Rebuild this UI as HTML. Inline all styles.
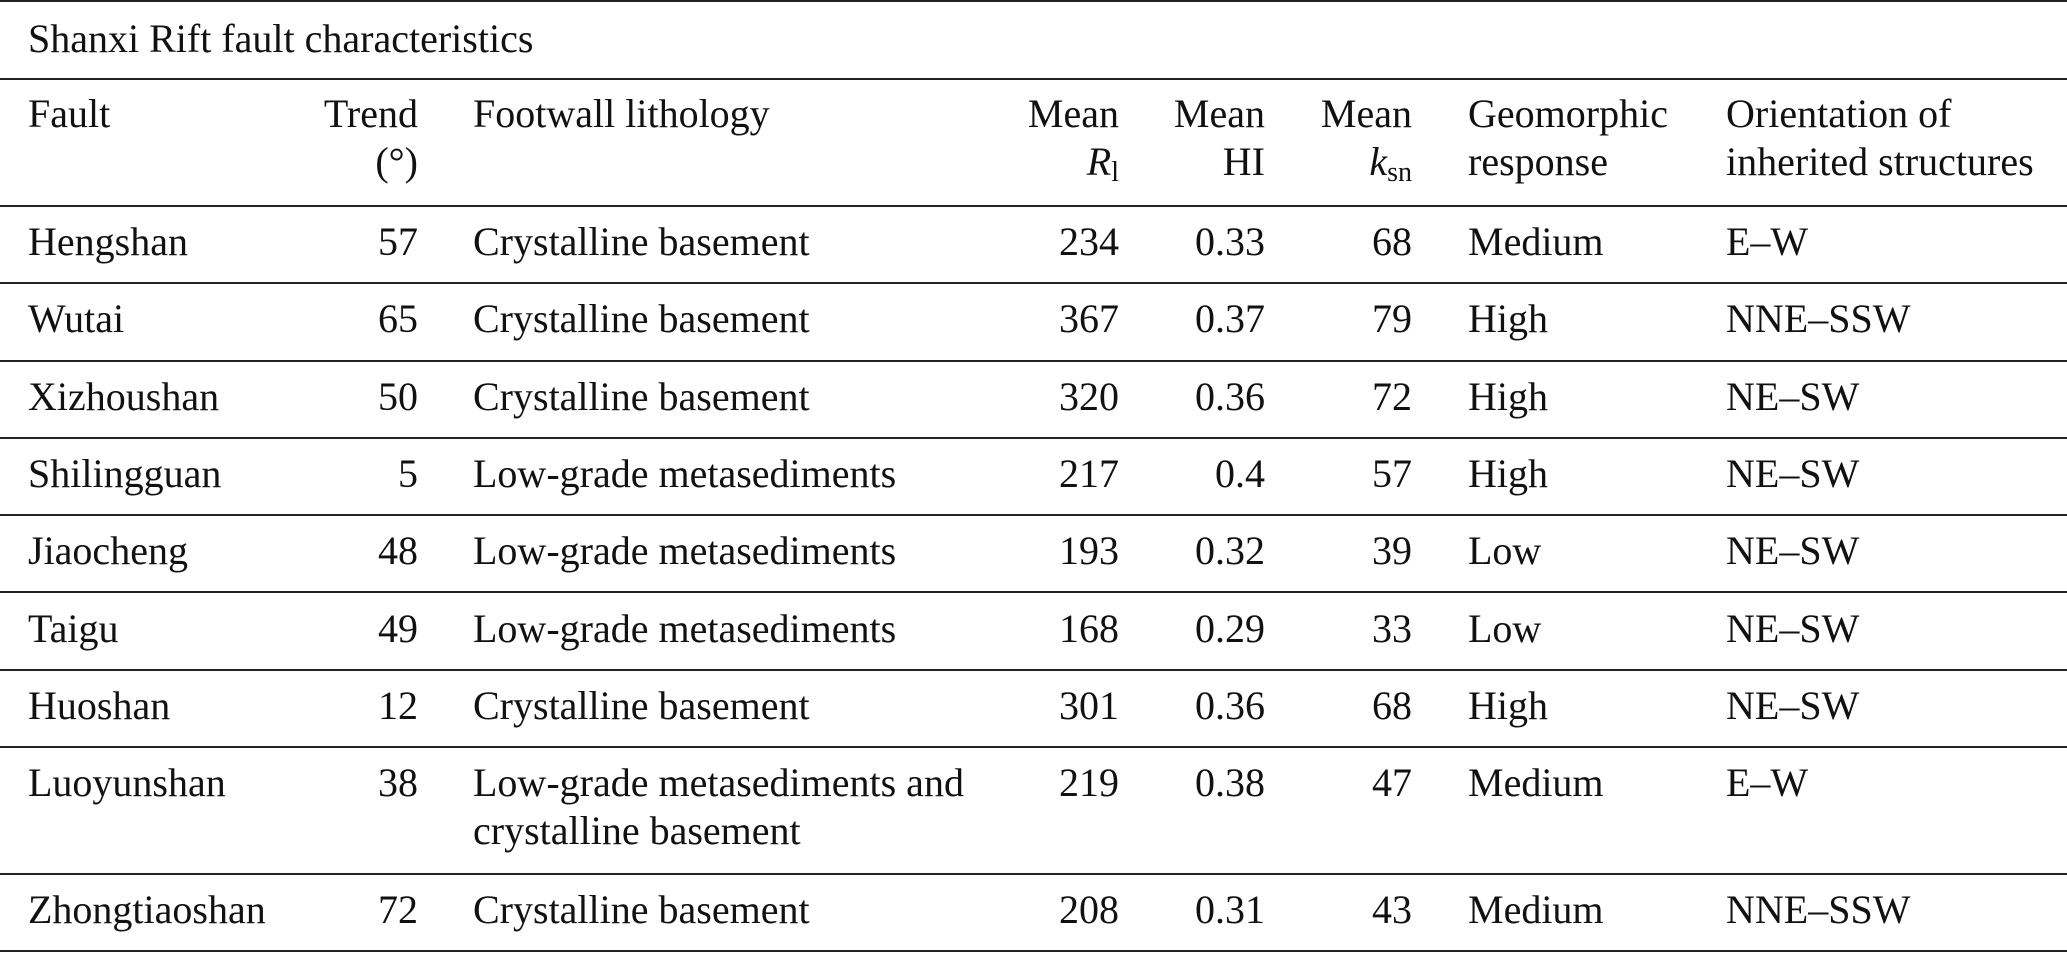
<!DOCTYPE html>
<html><head><meta charset="utf-8"><style>
body{margin:0;width:2067px;height:953px;background:#fff;position:relative;overflow:hidden;font-family:"Liberation Serif",serif;font-size:40px;color:#111;}
.l{position:absolute;left:0;width:2067px;height:2px;background:#222;}
.t{position:absolute;line-height:48px;white-space:nowrap;}
.r{text-align:right;}
sub{font-size:28px;vertical-align:-6px;line-height:0;font-style:normal;}
</style></head><body>
<div class="l" style="top:0"></div>
<div class="l" style="top:78px"></div>
<div class="l" style="top:205px"></div>
<div class="l" style="top:282px"></div>
<div class="l" style="top:360px"></div>
<div class="l" style="top:437px"></div>
<div class="l" style="top:514px"></div>
<div class="l" style="top:591px"></div>
<div class="l" style="top:669px"></div>
<div class="l" style="top:746px"></div>
<div class="l" style="top:873px"></div>
<div class="l" style="top:950px"></div>

<div class="t" style="left:28px;top:15px">Shanxi Rift fault characteristics</div>

<div class="t" style="left:28px;top:90px">Fault</div>
<div class="t r" style="right:1649px;top:90px">Trend<br>(°)</div>
<div class="t" style="left:473px;top:90px">Footwall lithology</div>
<div class="t r" style="right:948px;top:90px">Mean<br><i>R</i><sub>l</sub></div>
<div class="t r" style="right:802px;top:90px">Mean<br>HI</div>
<div class="t r" style="right:655px;top:90px">Mean<br><i>k</i><sub>sn</sub></div>
<div class="t" style="left:1468px;top:90px">Geomorphic<br>response</div>
<div class="t" style="left:1726px;top:90px">Orientation of<br>inherited structures</div>

<div id="rows"></div>
<script>
var d=[["Hengshan","57","Crystalline basement","234","0.33","68","Medium","E–W"],
["Wutai","65","Crystalline basement","367","0.37","79","High","NNE–SSW"],
["Xizhoushan","50","Crystalline basement","320","0.36","72","High","NE–SW"],
["Shilingguan","5","Low-grade metasediments","217","0.4","57","High","NE–SW"],
["Jiaocheng","48","Low-grade metasediments","193","0.32","39","Low","NE–SW"],
["Taigu","49","Low-grade metasediments","168","0.29","33","Low","NE–SW"],
["Huoshan","12","Crystalline basement","301","0.36","68","High","NE–SW"],
["Luoyunshan","38","Low-grade metasediments and<br>crystalline basement","219","0.38","47","Medium","E–W"],
["Zhongtiaoshan","72","Crystalline basement","208","0.31","43","Medium","NNE–SSW"]];
var tops=[206,283.3,360.6,437.9,515.2,592.5,669.8,747,874],h="";
d.forEach(function(r,i){var t=tops[i]+12;
h+='<div class="t" style="left:28px;top:'+t+'px">'+r[0]+'</div>';
h+='<div class="t r" style="right:1649px;top:'+t+'px">'+r[1]+'</div>';
h+='<div class="t" style="left:473px;top:'+t+'px">'+r[2]+'</div>';
h+='<div class="t r" style="right:948px;top:'+t+'px">'+r[3]+'</div>';
h+='<div class="t r" style="right:802px;top:'+t+'px">'+r[4]+'</div>';
h+='<div class="t r" style="right:655px;top:'+t+'px">'+r[5]+'</div>';
h+='<div class="t" style="left:1468px;top:'+t+'px">'+r[6]+'</div>';
h+='<div class="t" style="left:1726px;top:'+t+'px">'+r[7]+'</div>';});
document.getElementById("rows").innerHTML=h;
</script>
</body></html>
